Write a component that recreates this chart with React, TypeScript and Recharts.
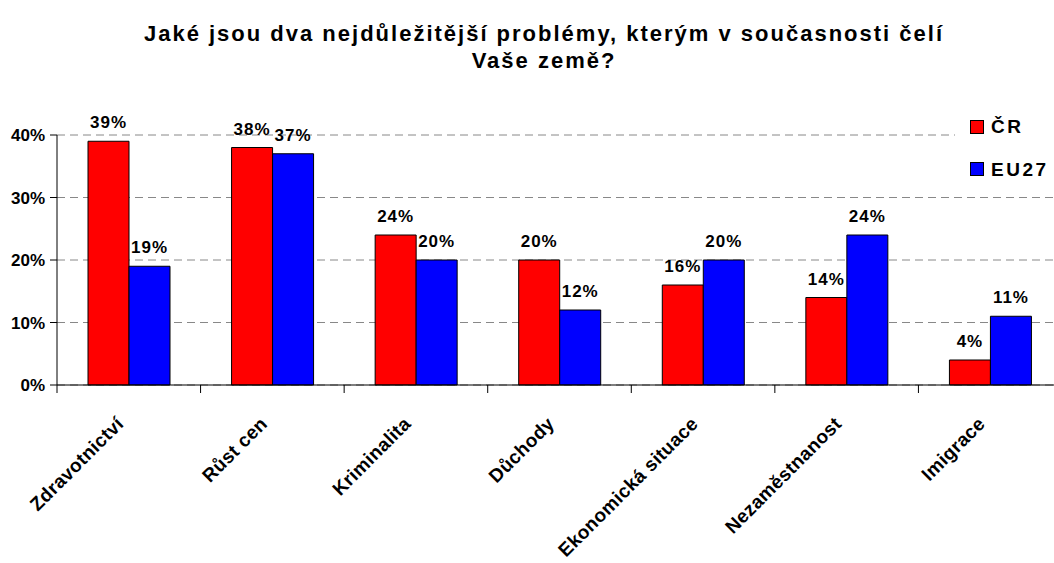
import React from 'react';
import { BarChart, Bar, XAxis, YAxis, CartesianGrid, LabelList, Legend } from 'recharts';

const categories = ['Zdravotnictví', 'Růst cen', 'Kriminalita', 'Důchody', 'Ekonomická situace', 'Nezaměstnanost', 'Imigrace'];
const crValues = [39, 38, 24, 20, 16, 14, 4];
const euValues = [19, 37, 20, 12, 20, 24, 11];
const seriesNames = ['ČR', 'EU27'];
const seriesColors = ['#FF0000', '#0000FF'];
const yTicks = [0, 10, 20, 30, 40];
const titleLines = ['Jaké jsou dva nejdůležitější problémy, kterým v současnosti čelí', 'Vaše země?'];

const data = categories.map((name, i) => ({ name, cr: crValues[i], eu: euValues[i] }));

const FONT = '"Liberation Sans", Arial, sans-serif';
const CHART_W = 1062;
const Y_W = 57;
const HALF_BAND = (CHART_W - Y_W) / categories.length / 2;

const CatTick = (props: any) => {
  const { x, payload } = props;
  const tx = x - 4;
  const ty = 425;
  return (
    <g>
      <line x1={x - HALF_BAND} y1={385} x2={x - HALF_BAND} y2={393} stroke="#000" strokeWidth={1} />
      <text
        x={tx}
        y={ty}
        transform={`rotate(-45, ${tx}, ${ty})`}
        textAnchor="end"
        fontFamily={FONT}
        fontWeight="bold"
        fontSize={19}
        letterSpacing={0.3}
        fill="#000"
      >
        {payload.value}
      </text>
    </g>
  );
};

const LegendContent = () => (
  <div style={{ background: '#fff', width: 110, height: 85, position: 'relative' }}>
    {seriesNames.map((n, i) => (
      <div key={n} style={{ position: 'absolute', left: 15, top: 15 + i * 42.5, display: 'flex', alignItems: 'center' }}>
        <div style={{ width: 12, height: 12, background: seriesColors[i], border: '1px solid #000' }} />
        <span style={{ marginLeft: 7, fontFamily: FONT, fontWeight: 'bold', fontSize: 19, letterSpacing: 2.5, color: '#000', lineHeight: '19px' }}>{n}</span>
      </div>
    ))}
  </div>
);

export default function App() {
  return (
    <div style={{ position: 'fixed', left: 0, top: 0, width: 1054, height: 563, overflow: 'hidden', background: '#fff' }}>
      <div style={{ position: 'absolute', left: 0, top: 0, width: 1088, textAlign: 'center', fontFamily: FONT, fontWeight: 'bold', fontSize: 22, letterSpacing: 2, lineHeight: '27px', paddingTop: 20, color: '#000', zIndex: 2 }}>
        <div>{titleLines[0]}</div>
        <div>{titleLines[1]}</div>
      </div>
      <BarChart
        width={CHART_W}
        height={563}
        data={data}
        margin={{ top: 135, right: 0, left: 0, bottom: 0 }}
        barGap={0}
      >
        <CartesianGrid vertical={false} stroke="#888" strokeDasharray="8 5" />
        <XAxis
          dataKey="name"
          interval={0}
          height={178}
          axisLine={{ stroke: '#000' }}
          tickLine={false}
          tick={<CatTick />}
        />
        <YAxis
          width={Y_W}
          domain={[0, 40]}
          ticks={yTicks}
          tickFormatter={(v: number) => `${v}%`}
          axisLine={{ stroke: '#000' }}
          tickLine={{ stroke: '#000' }}
          tickSize={7}
          tickMargin={5}
          tick={{ fontFamily: FONT, fontWeight: 'bold', fontSize: 17, fill: '#000' }}
        />
        <Legend
          layout="vertical"
          align="center"
          verticalAlign="middle"
          content={<LegendContent />}
          wrapperStyle={{ left: 955, top: 102, width: 110, height: 85 }}
        />
        <Bar dataKey="cr" name={seriesNames[0]} fill={seriesColors[0]} stroke="#000" strokeWidth={1} barSize={41} isAnimationActive={false}>
          <LabelList dataKey="cr" position="top" offset={13} formatter={(v: any) => `${v}%`} style={{ fontFamily: FONT, fontWeight: 'bold', fontSize: 17, letterSpacing: 1, fill: '#000' }} />
        </Bar>
        <Bar dataKey="eu" name={seriesNames[1]} fill={seriesColors[1]} stroke="#000" strokeWidth={1} barSize={41} isAnimationActive={false}>
          <LabelList dataKey="eu" position="top" offset={13} formatter={(v: any) => `${v}%`} style={{ fontFamily: FONT, fontWeight: 'bold', fontSize: 17, letterSpacing: 1, fill: '#000' }} />
        </Bar>
      </BarChart>
    </div>
  );
}
